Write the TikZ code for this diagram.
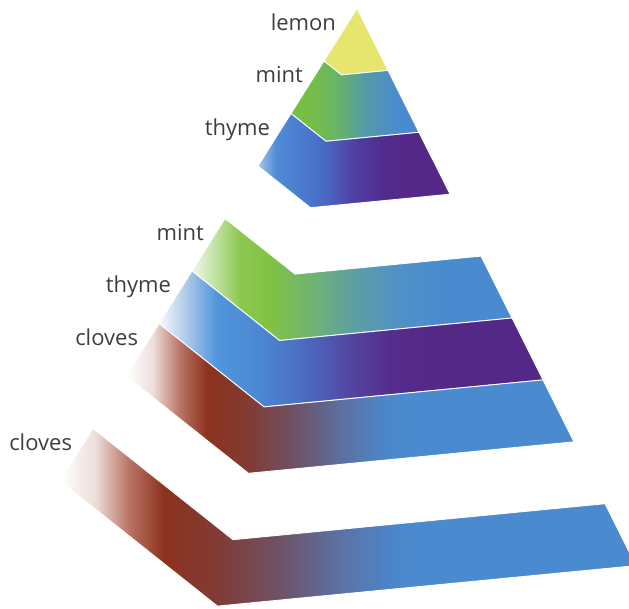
\documentclass[tikz,border=0pt]{standalone}
\usepackage{fontspec}
\setmainfont{Open Sans}
\usetikzlibrary{calc}

\definecolor{labgray}{RGB}{62,62,62}
\definecolor{cblue}{RGB}{74,139,207}
\definecolor{cpurple}{RGB}{84,40,135}
\definecolor{lemonc}{RGB}{230,230,110}
% top mint
\definecolor{tmA}{RGB}{118,190,72}
\definecolor{tmB}{RGB}{105,180,100}
\definecolor{tmC}{RGB}{85,155,165}
% top thyme
\definecolor{ttA}{RGB}{165,196,234}
\definecolor{ttB}{RGB}{80,140,215}
\definecolor{ttC}{RGB}{72,110,200}
\definecolor{ttD}{RGB}{80,62,160}
\definecolor{ttE}{RGB}{82,44,140}
% middle mint
\definecolor{mmA}{RGB}{240,248,235}
\definecolor{mmB}{RGB}{190,225,160}
\definecolor{mmC}{RGB}{140,200,80}
\definecolor{mmD}{RGB}{128,194,68}
\definecolor{mmE}{RGB}{112,180,110}
\definecolor{mmF}{RGB}{95,160,160}
\definecolor{mmG}{RGB}{80,145,200}
% middle thyme
\definecolor{mtA}{RGB}{245,248,252}
\definecolor{mtB}{RGB}{180,205,235}
\definecolor{mtC}{RGB}{80,150,220}
\definecolor{mtD}{RGB}{75,135,210}
\definecolor{mtE}{RGB}{75,110,195}
\definecolor{mtF}{RGB}{82,70,160}
\definecolor{mtG}{RGB}{85,45,140}
% cloves
\definecolor{clA}{RGB}{238,222,218}
\definecolor{clB}{RGB}{185,115,100}
\definecolor{clC}{RGB}{140,50,30}
\definecolor{clD}{RGB}{128,60,55}
\definecolor{clE}{RGB}{108,85,108}
\definecolor{clF}{RGB}{90,115,165}
\definecolor{clG}{RGB}{76,134,203}

% position p(x) = 50 + x/40 (bp), shading rectangle spans x=-1000..1000
\pgfdeclarehorizontalshading{shTopMint}{100bp}{color(0bp)=(tmA); color(57.75bp)=(tmA); color(58.4bp)=(tmB); color(59.1bp)=(tmC); color(59.9bp)=(cblue); color(100bp)=(cblue)}
\pgfdeclarehorizontalshading{shTopThyme}{100bp}{color(0bp)=(ttA); color(56.45bp)=(ttA); color(56.9bp)=(ttB); color(58bp)=(ttC); color(58.9bp)=(ttD); color(59.6bp)=(ttE); color(60.5bp)=(cpurple); color(100bp)=(cpurple)}
\pgfdeclarehorizontalshading{shMidMint}{100bp}{color(0bp)=(mmA); color(54.8bp)=(mmA); color(55.4bp)=(mmB); color(56bp)=(mmC); color(56.75bp)=(mmD); color(57.75bp)=(mmE); color(58.75bp)=(mmF); color(60bp)=(mmG); color(61bp)=(cblue); color(100bp)=(cblue)}
\pgfdeclarehorizontalshading{shMidThyme}{100bp}{color(0bp)=(mtA); color(54bp)=(mtA); color(54.6bp)=(mtB); color(55.4bp)=(mtC); color(56.5bp)=(mtD); color(57.5bp)=(mtE); color(58.75bp)=(mtF); color(59.75bp)=(mtG); color(61.25bp)=(cpurple); color(100bp)=(cpurple)}
\pgfdeclarehorizontalshading{shMidCloves}{100bp}{color(0bp)=(white); color(53.15bp)=(white); color(53.825bp)=(clA); color(54.5bp)=(clB); color(55.175bp)=(clC); color(56.3bp)=(clD); color(57.525bp)=(clE); color(58.65bp)=(clF); color(59.65bp)=(clG); color(60.225bp)=(cblue); color(100bp)=(cblue)}
\pgfdeclarehorizontalshading{shBotCloves}{100bp}{color(0bp)=(white); color(51.5bp)=(white); color(52.375bp)=(clA); color(53.225bp)=(clB); color(54.1bp)=(clC); color(55.525bp)=(clD); color(57.125bp)=(clE); color(58.55bp)=(clF); color(59.85bp)=(clG); color(60.575bp)=(cblue); color(100bp)=(cblue)}

\newcommand{\pyrband}[3]{%
  \begin{scope}
    \clip ($(A)+#1*(vl)$) -- ($(A)+#1*(vf)$) -- ($(A)+#1*(vr)$) -- ($(A)+#2*(vr)$) -- ($(A)+#2*(vf)$) -- ($(A)+#2*(vl)$) -- cycle;
    \shade[shading=#3] (-1000,0) rectangle (1000,620);
  \end{scope}
  \draw[sepline] ($(A)+#1*(vl)$) -- ($(A)+#1*(vf)$) -- ($(A)+#1*(vr)$) -- ($(A)+#2*(vr)$) -- ($(A)+#2*(vf)$) -- ($(A)+#2*(vl)$) -- cycle;
}

\begin{document}
\begin{tikzpicture}[x=1pt,y=-1pt,
  lab/.style={anchor=base east, inner sep=0pt, text=labgray, font=\fontsize{22}{26}\selectfont},
  sepline/.style={draw=white, line width=0.9pt, line join=round}]
\useasboundingbox (0,0) rectangle (629,609);
\clip (0,0) rectangle (629,609);
\coordinate (A) at (357,8.5);
\coordinate (vl) at (-33,52.5);
\coordinate (vf) at (-15.5,66.4);
\coordinate (vr) at (31,61.9);
\coordinate (lo) at (-20.8,22);

% top pyramid
\fill[lemonc] (A) -- ($(A)+1*(vr)$) -- ($(A)+1*(vf)$) -- ($(A)+1*(vl)$) -- cycle;
\draw[sepline] (A) -- ($(A)+1*(vr)$) -- ($(A)+1*(vf)$) -- ($(A)+1*(vl)$) -- cycle;
\pyrband{1}{2}{shTopMint}
\pyrband{2}{3}{shTopThyme}
% middle group
\pyrband{4}{5}{shMidMint}
\pyrband{5}{6}{shMidThyme}
\pyrband{6}{7}{shMidCloves}
% bottom
\pyrband{8}{9}{shBotCloves}

% labels
\node[lab] (l1) at ($(A)+0*(vl)+(lo)$) {lemon};
\node[lab] (l2) at ($(A)+1*(vl)+(lo)$) {mint};
\node[lab] (l3) at ($(A)+2*(vl)+(lo)$) {thyme};
\node[lab] (l4) at ($(A)+4*(vl)+(lo)$) {mint};
\node[lab] (l5) at ($(A)+5*(vl)+(lo)$) {thyme};
\node[lab] (l6) at ($(A)+6*(vl)+(lo)$) {cloves};
\node[lab] (l7) at ($(A)+8*(vl)+(lo)$) {cloves};
\end{tikzpicture}
\end{document}
